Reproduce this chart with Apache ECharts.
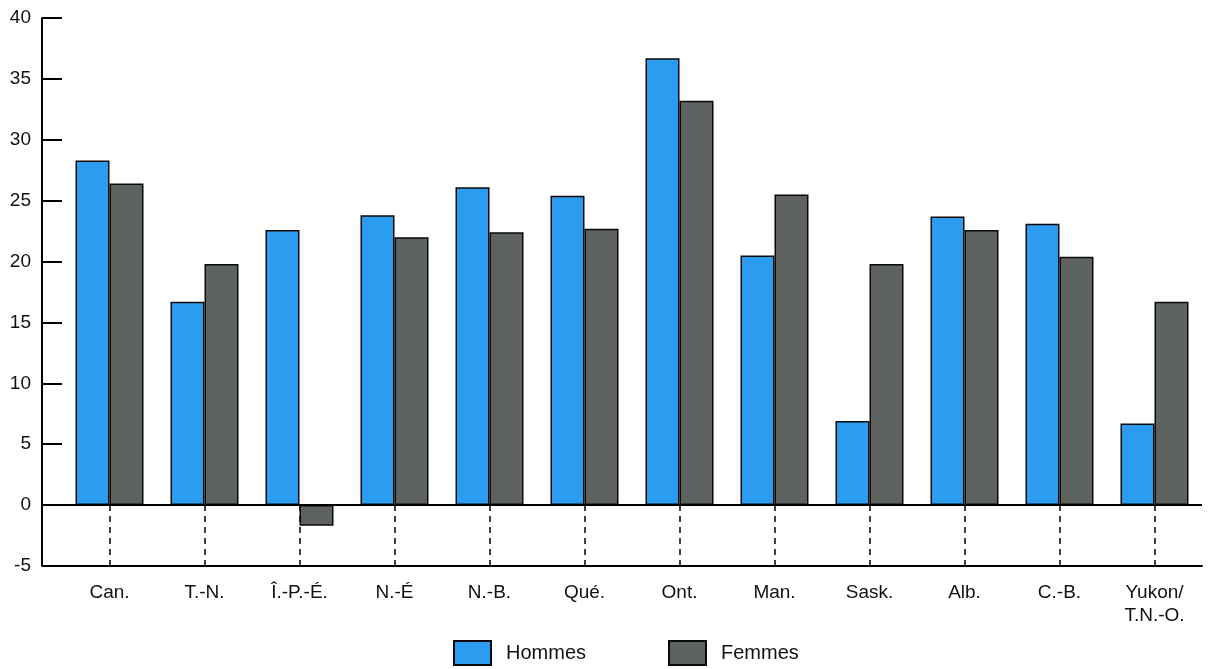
<!DOCTYPE html>
<html>
<head>
<meta charset="utf-8">
<script src="https://cdn.jsdelivr.net/npm/echarts@6/dist/echarts.min.js"></script>
<style>html,body{margin:0;padding:0;background:#fff}#c{width:1217px;height:669px}</style>
</head>
<body>
<div id="c"></div>
<script>
const categories = ['Can.', 'T.-N.', 'Î.-P.-É.', 'N.-É', 'N.-B.', 'Qué.', 'Ont.', 'Man.', 'Sask.', 'Alb.', 'C.-B.', 'Yukon/\nT.N.-O.'];
const hommes = [28.3, 16.7, 22.6, 23.8, 26.1, 25.4, 36.7, 20.5, 6.9, 23.7, 23.1, 6.7];
const femmes = [26.4, 19.8, -1.7, 22.0, 22.4, 22.7, 33.2, 25.5, 19.8, 22.6, 20.4, 16.7];
const yTicks = { min: -5, max: 40, interval: 5 };

const chart = echarts.init(document.getElementById('c'));
const font = 'Liberation Sans, Arial, sans-serif';
chart.setOption({
  backgroundColor: '#fff',
  animation: false,
  textStyle: { fontFamily: font },
  grid: { left: 62, right: 15, top: 18, bottom: 103 },
  legend: {
    data: ['Hommes', 'Femmes'],
    top: 640,
    left: 453,
    padding: 0,
    icon: 'rect',
    itemWidth: 37,
    itemHeight: 24,
    itemGap: 82,
    textStyle: { fontSize: 20, color: '#111', fontFamily: font, padding: [0, 0, 0, 10] }
  },
  xAxis: {
    type: 'category',
    data: categories,
    axisLine: { show: true, onZero: false, lineStyle: { color: '#000', width: 2 } },
    axisTick: {
      show: true,
      interval: 0,
      alignWithLabel: true,
      inside: true,
      length: 61,
      lineStyle: { color: '#000', type: [6, 5], width: 1.5 }
    },
    axisLabel: { color: '#111', fontSize: 19, margin: 15, lineHeight: 23, interval: 0, fontFamily: font }
  },
  yAxis: {
    type: 'value',
    min: yTicks.min,
    max: yTicks.max,
    interval: yTicks.interval,
    offset: 20,
    axisLine: { show: true, lineStyle: { color: '#000', width: 2 } },
    axisTick: { show: true, inside: true, length: 20, lineStyle: { color: '#000', width: 2 } },
    axisLabel: { color: '#111', fontSize: 19, margin: 11, fontFamily: font },
    splitLine: { show: false }
  },
  series: [
    {
      name: 'Hommes',
      type: 'bar',
      data: hommes,
      barWidth: 34,
      barGap: '0%',
      itemStyle: { color: '#2b9cf0', borderColor: '#0a0a0a', borderWidth: 1.5 },
      markLine: {
        silent: true,
        symbol: 'none',
        label: { show: false },
        lineStyle: { color: '#000', type: 'solid', width: 2 },
        data: [{ yAxis: 0 }]
      }
    },
    {
      name: 'Femmes',
      type: 'bar',
      data: femmes,
      barWidth: 34,
      itemStyle: { color: '#5e625f', borderColor: '#0a0a0a', borderWidth: 1.5 }
    }
  ]
});
</script>
</body>
</html>
